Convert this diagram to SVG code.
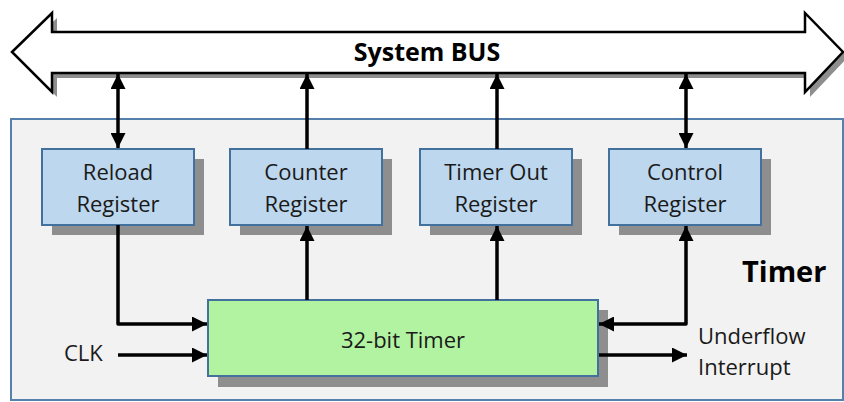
<svg xmlns="http://www.w3.org/2000/svg" width="844" height="402" viewBox="0 0 844 402">
  <defs>
    <marker id="head" viewBox="0 0 15 15" refX="15" refY="7.5" markerWidth="15" markerHeight="15" markerUnits="userSpaceOnUse" orient="auto-start-reverse">
      <path d="M0,0 L15,7.5 L0,15 Z" fill="#000"/>
    </marker>
  </defs>
  <style>
    .shadow { fill: #8e8e8e; }
    .reg { fill: #bdd7ee; stroke: #41719c; stroke-width: 2; }
    .core { fill: #b2f3a1; stroke: #41719c; stroke-width: 2; }
    .wire { fill: none; stroke: #000; stroke-width: 3.5; stroke-linejoin: round; }
    .lbl { font-family: "Open Sans", "Liberation Sans", sans-serif; font-size: 22px; fill: #1a1a1a; }
    .ctr { text-anchor: middle; }
    .bold { font-weight: bold; fill: #000; }
  </style>

  <!-- system bus: double-headed block arrow -->
  <g id="system-bus">
    <path d="M17,57 L57,18 L57,37 L810,37 L810,18 L848,57 L810,97 L810,78 L57,78 L57,97 Z" class="shadow"/>
    <path d="M12,52 L52,13 L52,32 L805,32 L805,13 L843,52 L805,92 L805,73 L52,73 L52,92 Z" fill="#fff" stroke="#000" stroke-width="2.5" stroke-linejoin="miter"/>
    <text x="427" y="61" class="lbl ctr bold" font-size="25" style="font-size:25px">System BUS</text>
  </g>

  <!-- timer block container -->
  <g id="timer">
    <rect x="11" y="119" width="832" height="281" fill="#f2f2f2" stroke="#5580ab" stroke-width="2"/>
    <text x="742" y="282" class="lbl bold" style="font-size:29px">Timer</text>
  </g>

  <g id="reload-register">
    <rect x="52" y="159" width="152" height="76" class="shadow"/>
    <rect x="42" y="149" width="152" height="76" class="reg"/>
    <text x="118" y="180" class="lbl ctr">Reload</text>
    <text x="118" y="212" class="lbl ctr">Register</text>
  </g>

  <g id="counter-register">
    <rect x="240" y="159" width="152" height="76" class="shadow"/>
    <rect x="230" y="149" width="152" height="76" class="reg"/>
    <text x="306" y="180" class="lbl ctr">Counter</text>
    <text x="306" y="212" class="lbl ctr">Register</text>
  </g>

  <g id="timer-out-register">
    <rect x="430" y="159" width="152" height="76" class="shadow"/>
    <rect x="420" y="149" width="152" height="76" class="reg"/>
    <text x="496" y="180" class="lbl ctr">Timer Out</text>
    <text x="496" y="212" class="lbl ctr">Register</text>
  </g>

  <g id="control-register">
    <rect x="619" y="159" width="152" height="76" class="shadow"/>
    <rect x="609" y="149" width="152" height="76" class="reg"/>
    <text x="685" y="180" class="lbl ctr">Control</text>
    <text x="685" y="212" class="lbl ctr">Register</text>
  </g>

  <g id="timer-32bit">
    <rect x="218" y="310" width="390" height="77" class="shadow"/>
    <rect x="208" y="300" width="390" height="76" class="core"/>
    <text x="403" y="348" class="lbl ctr">32-bit Timer</text>
  </g>

  <g id="clk-label">
    <text x="64" y="361" class="lbl">CLK</text>
  </g>

  <g id="underflow-label">
    <text x="698" y="344" class="lbl">Underflow</text>
    <text x="698" y="375" class="lbl">Interrupt</text>
  </g>

  <!-- connectors -->
  <g id="connectors">
    <!-- bus <-> registers -->
    <path d="M118,74 V148" class="wire" marker-start="url(#head)" marker-end="url(#head)"/>
    <path d="M307,149 V74" class="wire" marker-end="url(#head)"/>
    <path d="M497,149 V74" class="wire" marker-end="url(#head)"/>
    <path d="M686,74 V148" class="wire" marker-start="url(#head)" marker-end="url(#head)"/>
    <!-- registers <-> timer core -->
    <path d="M118,225 V324 H207" class="wire" marker-end="url(#head)"/>
    <path d="M307,300 V226" class="wire" marker-end="url(#head)"/>
    <path d="M497,300 V226" class="wire" marker-end="url(#head)"/>
    <path d="M599,324 H686 V226" class="wire" marker-start="url(#head)" marker-end="url(#head)"/>
    <!-- clock in, underflow out -->
    <path d="M118,355 H207" class="wire" marker-end="url(#head)"/>
    <path d="M599,355 H687" class="wire" marker-end="url(#head)"/>
  </g>
</svg>
